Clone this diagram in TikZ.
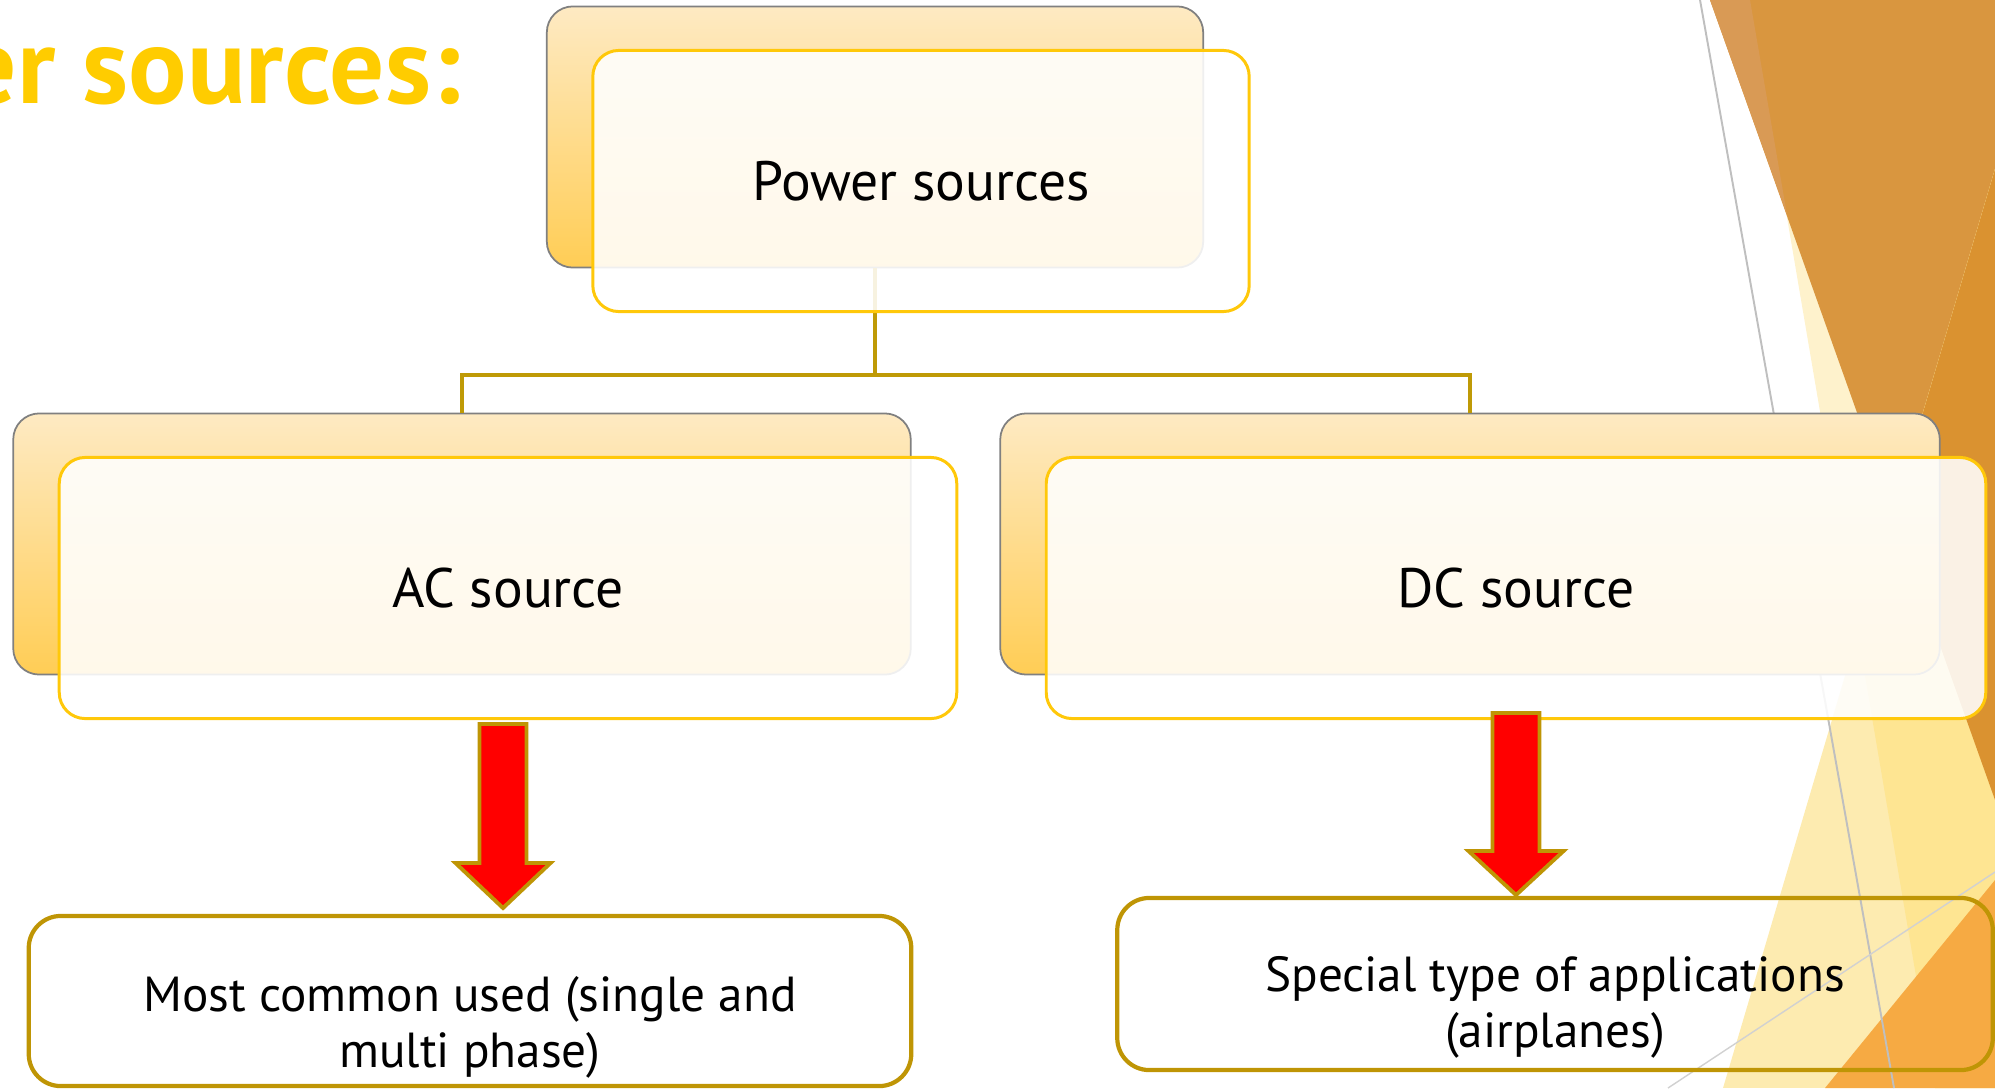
\documentclass[tikz,border=0pt]{standalone}
\usepackage{fontspec}
\setmainfont{PT Sans}
\usepackage{tikz}
\usetikzlibrary{positioning}

\definecolor{titlegold}{HTML}{FFCC00}
\definecolor{goldline}{HTML}{FFC80A}
\definecolor{branchline}{HTML}{BF9A06}
\definecolor{leafline}{HTML}{BF9505}
\definecolor{backtop}{HTML}{FEEAC3}
\definecolor{backbottom}{HTML}{FFCD55}
% theme triangles on the right
\definecolor{facetpale}{HTML}{FEF2CC}
\definecolor{facetlight}{HTML}{FDEBB0}
\definecolor{facetyellow}{HTML}{FEE592}
\definecolor{facetorange}{HTML}{D9963F}
\definecolor{facetsliver}{HTML}{D99A55}
\definecolor{facetdark}{HTML}{DA9230}
\definecolor{facetbright}{HTML}{F6AA43}

% block arrow pointing down: centre x, top, head base, tip
\newcommand{\redblockarrow}[4]{%
  \draw[redarrow] (#1-23.5,#2) -- (#1+23.5,#2) -- (#1+23.5,#3) -- (#1+47.5,#3)
    -- (#1,#4) -- (#1-47.5,#3) -- (#1-23.5,#3) -- cycle;}

\begin{document}
\begin{tikzpicture}[x=0.01cm, y=-0.01cm,
  backbox/.style={draw=black!50, line width=0.5pt, rounded corners=2.6mm, top color=backtop, bottom color=backbottom, minimum height=26.1mm},
  frontbox/.style={draw=goldline, line width=0.85pt, rounded corners=2.6mm, fill=white, fill opacity=0.88, text opacity=1, minimum height=26.1mm, font=\fontsize{15.8}{19}\selectfont},
  leafbox/.style={draw=leafline, line width=1.2pt, rounded corners=3.2mm},
  leaftext/.style={align=center, font=\fontsize{14}{15.9}\selectfont},
  link/.style={draw=branchline, line width=1.1pt},
  redarrow/.style={fill=red, draw=leafline, line width=1.1pt, line join=miter}
]
  \useasboundingbox (0,0) rectangle (1995,1088);
  \clip (0,0) rectangle (1995,1088);

  % background triangles
  \fill[facetpale] (1750,0) -- (1995,0) -- (1995,1088) -- (1935,1088) -- cycle;
  \fill[facetorange] (1710,0) -- (1995,0) -- (1995,800) -- cycle;
  \fill[facetsliver] (1710,0) -- (1750,0) -- (1787,215) -- cycle;
  \begin{scope}
    \clip (1723,1088) -- (1995,169) -- (1995,1088) -- cycle;
    \fill[facetlight] (1700,150) rectangle (1995,1088);
    \fill[facetyellow] (1750,0) -- (1995,0) -- (1995,1088) -- (1935,1088) -- cycle;
    \fill[facetdark] (1710,0) -- (1995,0) -- (1995,800) -- cycle;
  \end{scope}
  \fill[facetbright] (1825,1088) -- (1995,880) -- (1995,1088) -- cycle;
  \draw[black!25, line width=0.55pt] (1700,0) -- (1894,1088);
  \draw[black!18, line width=0.4pt] (1668,1088) -- (1995,872);

  % title
  \node[anchor=base east, inner sep=0pt, text=titlegold, font=\fontsize{31}{37}\selectfont\bfseries] (title) at (461,104) {Power sources:};

  % hierarchy
  \node[backbox, minimum width=65.6mm] (btop) at (875,137) {};
  \node[backbox, minimum width=89.7mm] (bac) at (462,544) {};
  \node[backbox, minimum width=93.9mm] (bdc) at (1470,544) {};

  \coordinate (fork) at (875,375);
  \draw[link] (btop.south) -- (fork);
  \draw[link] (bac.north) |- (fork) -| (bdc.north);

  \node[frontbox, minimum width=65.6mm] (ftop) at ([shift={(46,44)}]btop.center) {Power sources};
  \node[frontbox, minimum width=89.7mm] (fac) at ([shift={(46,44)}]bac.center) {AC source};
  \node[frontbox, minimum width=93.9mm] (fdc) at ([shift={(46,44)}]bdc.center) {DC source};

  % leaves
  \node[leafbox, minimum width=88.2mm, minimum height=17mm] (lac) at (470,1001) {};
  \node[leafbox, minimum width=87.5mm, minimum height=17.2mm] (ldc) at (1555,984) {};
  \node[leaftext] (tac) at ([yshift=-2.6mm]lac.center) {Most common used (single and\\multi phase)};
  \node[leaftext] (tdc) at ([yshift=-2.3mm]ldc.center) {Special type of applications\\(airplanes)};

  \redblockarrow{503}{724}{863}{908}
  \redblockarrow{1516}{713}{851}{895}
\end{tikzpicture}
\end{document}
